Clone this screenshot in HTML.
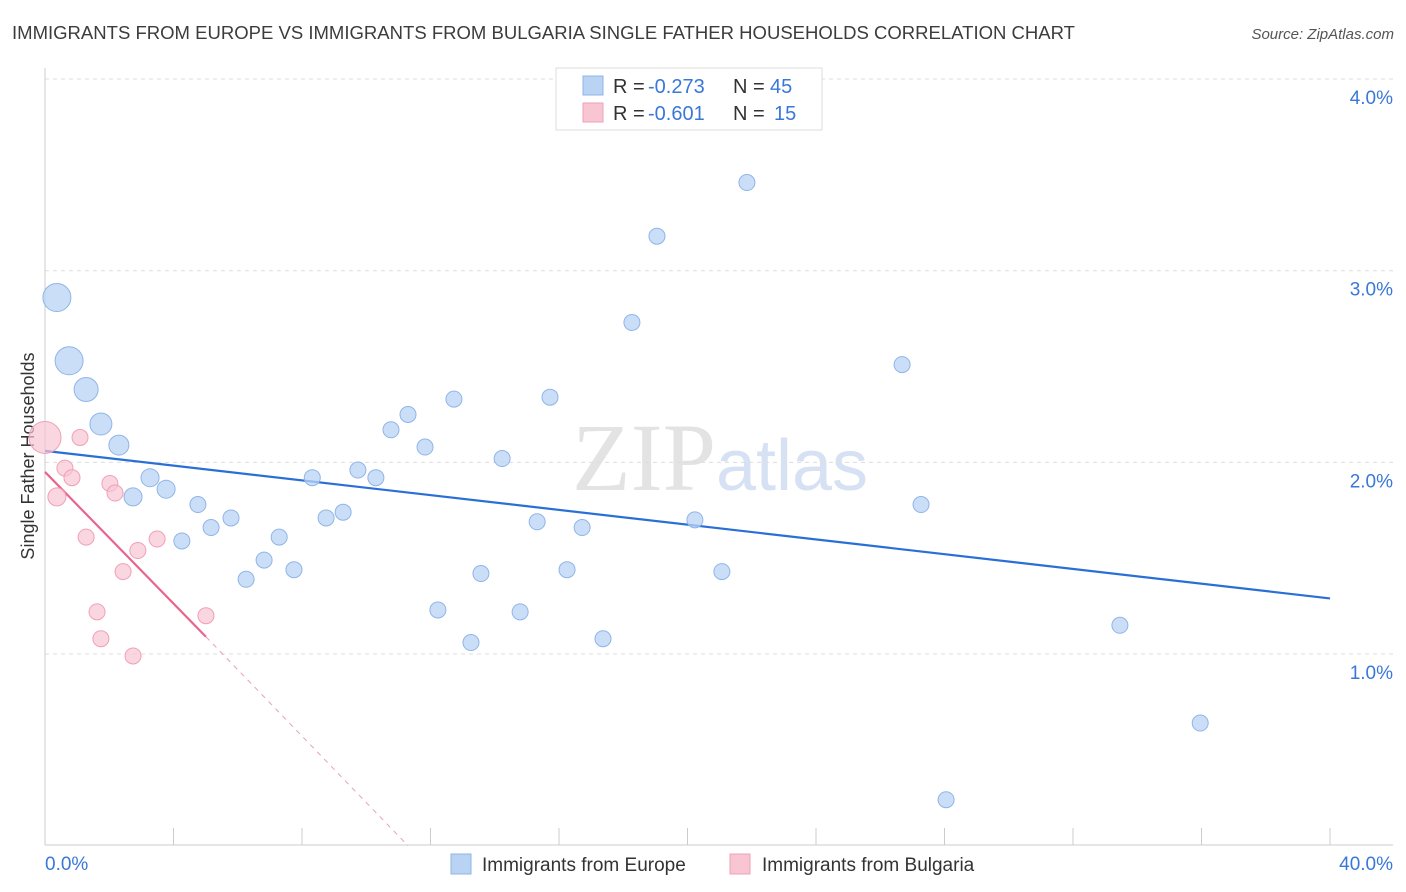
<!DOCTYPE html>
<html><head><meta charset="utf-8"><style>
body{margin:0;background:#fff;font-family:"Liberation Sans",sans-serif;}
</style></head><body>
<svg id="chart" width="1406" height="892" xmlns="http://www.w3.org/2000/svg" style="display:block">
<text x="12" y="39" font-size="18" fill="#3c3c3c" textLength="1063" lengthAdjust="spacingAndGlyphs">IMMIGRANTS FROM EUROPE VS IMMIGRANTS FROM BULGARIA SINGLE FATHER HOUSEHOLDS CORRELATION CHART</text>
<text x="1394" y="39" font-size="15" fill="#555" text-anchor="end" font-style="italic">Source: ZipAtlas.com</text>
<text x="720" y="490" text-anchor="middle" font-size="96" font-family="Liberation Serif,serif" fill="#d8d8d8" opacity="0.7">ZIP<tspan font-family="Liberation Sans,sans-serif" font-size="72" fill="#c5d6ee">atlas</tspan></text>
<text transform="translate(34,456) rotate(-90)" text-anchor="middle" font-size="18" fill="#333">Single Father Households</text>
<g id="grid"></g><g id="axes"></g><g id="trends"></g><g id="points"></g>
<g>
<rect x="556" y="68" width="266" height="62" fill="#fff" stroke="#ddd"/>
<rect x="583" y="76" width="20" height="19" fill="#b9d3f5" stroke="#8fb5e8"/>
<text x="613" y="93" font-size="20" fill="#333">R =</text>
<text x="648" y="93" font-size="20" fill="#3a78d8">-0.273</text>
<text x="733" y="93" font-size="20" fill="#333">N =</text>
<text x="770" y="93" font-size="20" fill="#3a78d8">45</text>
<rect x="583" y="103" width="20" height="19" fill="#f8c5d3" stroke="#f0a0b8"/>
<text x="613" y="120" font-size="20" fill="#333">R =</text>
<text x="648" y="120" font-size="20" fill="#3a78d8">-0.601</text>
<text x="733" y="120" font-size="20" fill="#333">N =</text>
<text x="774" y="120" font-size="20" fill="#3a78d8">15</text>
</g>
<g>
<rect x="451" y="854" width="20" height="20" fill="#b9d3f5" stroke="#8fb5e8"/>
<text x="482" y="871" font-size="19" fill="#333">Immigrants from Europe</text>
<rect x="730" y="854" width="20" height="20" fill="#f8c5d3" stroke="#f0a0b8"/>
<text x="762" y="871" font-size="19" fill="#333">Immigrants from Bulgaria</text>
</g>
</svg>
<script>
const europeX=[0.37,0.75,1.28,1.74,2.30,3.27,2.74,3.77,4.26,4.76,5.17,5.79,6.26,6.82,7.29,7.75,8.32,8.75,9.28,9.74,10.30,10.77,11.30,11.83,12.23,12.73,13.26,13.57,14.23,14.79,15.32,15.72,16.25,16.72,17.37,18.27,19.05,20.23,21.07,21.85,26.68,27.27,28.05,33.46,35.96];
const europeY=[2.86,2.53,2.38,2.20,2.09,1.92,1.82,1.86,1.59,1.78,1.66,1.71,1.39,1.49,1.61,1.44,1.92,1.71,1.74,1.96,1.92,2.17,2.25,2.08,1.23,2.33,1.06,1.42,2.02,1.22,1.69,2.34,1.44,1.66,1.08,2.73,3.18,1.70,1.43,3.46,2.51,1.78,0.24,1.15,0.64];
const europeSize=[14,14,12,11,10,9,9,9,8,8,8,8,8,8,8,8,8,8,8,8,8,8,8,8,8,8,8,8,8,8,8,8,8,8,8,8,8,8,8,8,8,8,8,8,8];
const bulgariaX=[0.0,0.37,0.62,0.84,1.09,1.28,1.62,1.74,2.02,2.18,2.43,2.74,2.89,3.49,5.01];
const bulgariaY=[2.13,1.82,1.97,1.92,2.13,1.61,1.22,1.08,1.89,1.84,1.43,0.99,1.54,1.60,1.20];
const bulgariaSize=[16,9,8,8,8,8,8,8,8,8,8,8,8,8,8];
const europeTrend=[2.06,1.29];
const bulgariaTrend=[1.95,1.09,5.01,0.0,11.3];
const yTicks=[1,2,3,4];
const xTickLabels=["0.0%","40.0%"];
const NS="http://www.w3.org/2000/svg";
const X=v=>45+v/40*1285, Y=v=>845.7-v*191.67;
function mk(tag,attrs,parent){const e=document.createElementNS(NS,tag);for(const k in attrs)e.setAttribute(k,attrs[k]);document.getElementById(parent).appendChild(e);return e;}
yTicks.forEach(t=>{
 const l=mk('line',{x1:45,x2:1393,y1:Y(t),y2:Y(t),stroke:'#ddd','stroke-dasharray':'4,4'},'grid');
 
 
 const tx=mk('text',{x:1393,y:Y(t)+25,'text-anchor':'end','font-size':19,fill:'#3a78d8'},'grid');tx.textContent=t.toFixed(1)+'%';
 
 
});
mk('line',{x1:45,x2:45,y1:68,y2:845,stroke:'#ccc'},'axes');
mk('line',{x1:45,x2:1393,y1:845,y2:845,stroke:'#ccc'},'axes');
for(let i=0;i<=10;i++){const t=mk('line',{x1:X(i*4),x2:X(i*4),y1:828,y2:845,stroke:'#ccc'},'axes');
 
 }
[[0,'start',45],[40,'end',1393]].forEach((a,i)=>{const t=mk('text',{x:a[2],y:870,'text-anchor':a[1],'font-size':19,fill:'#3a78d8'},'axes');t.textContent=xTickLabels[i];
 
 });
europeX.forEach((x,i)=>{const c=mk('circle',{cx:X(x),cy:Y(europeY[i]),r:europeSize[i],fill:'#b9d3f5','fill-opacity':0.75,stroke:'#8fb5e8'},'points');
 
 });
bulgariaX.forEach((x,i)=>{const c=mk('circle',{cx:X(x),cy:Y(bulgariaY[i]),r:bulgariaSize[i],fill:'#f8c5d3','fill-opacity':0.7,stroke:'#f0a0b8'},'points');
 
 });
const bt=mk('line',{x1:X(0),y1:Y(europeTrend[0]),x2:X(40),y2:Y(europeTrend[1]),stroke:'#2a6fd6','stroke-width':2.2},'trends');


const pt=mk('line',{x1:X(0),y1:Y(bulgariaTrend[0]),x2:X(bulgariaTrend[2]),y2:Y(bulgariaTrend[1]),stroke:'#e8658e','stroke-width':2.2},'trends');


const pd=mk('line',{x1:X(bulgariaTrend[2]),y1:Y(bulgariaTrend[1]),x2:X(bulgariaTrend[4]),y2:Y(bulgariaTrend[3]),stroke:'#e8a0b8','stroke-width':1,'stroke-dasharray':'5,5'},'trends');


</script>
</body></html>
